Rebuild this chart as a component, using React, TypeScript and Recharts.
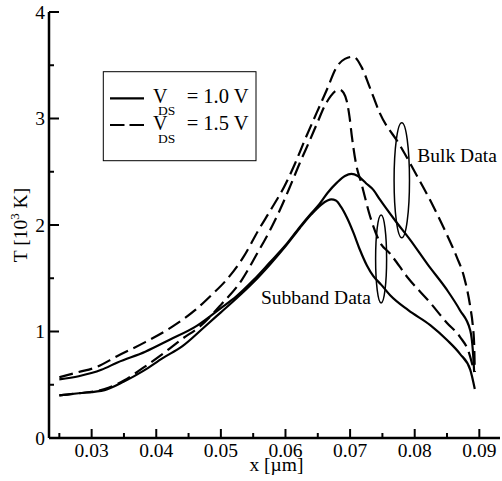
import React from 'react';
import { LineChart, Line, XAxis, YAxis, ReferenceDot, Customized, Label } from 'recharts';

const FONT = "'Liberation Serif', 'Times New Roman', serif";

// x [um] / T [10^3 K]
const subband10X = [0.025, 0.028, 0.032, 0.035, 0.038, 0.041, 0.044, 0.0475, 0.05, 0.0524, 0.055, 0.0576, 0.06, 0.0622, 0.064, 0.0655, 0.0665, 0.0671, 0.0678, 0.0686, 0.0695, 0.0705, 0.0715, 0.0726, 0.0736, 0.0748, 0.0762, 0.079, 0.0824, 0.085, 0.087, 0.0886, 0.0893];
const subband10T = [0.40, 0.42, 0.45, 0.53, 0.63, 0.75, 0.86, 1.045, 1.18, 1.31, 1.46, 1.63, 1.80, 1.97, 2.10, 2.19, 2.23, 2.24, 2.23, 2.17, 2.07, 1.93, 1.77, 1.62, 1.52, 1.44, 1.34, 1.20, 1.06, 0.92, 0.79, 0.64, 0.46];

const bulk10X = [0.025, 0.028, 0.0315, 0.034, 0.0383, 0.042, 0.0462, 0.05, 0.0524, 0.055, 0.0576, 0.06, 0.0622, 0.064, 0.0653, 0.0665, 0.068, 0.0692, 0.0702, 0.0712, 0.0725, 0.0736, 0.0746, 0.077, 0.0793, 0.082, 0.085, 0.087, 0.0886, 0.089, 0.0892];
const bulk10T = [0.55, 0.58, 0.64, 0.71, 0.81, 0.92, 1.05, 1.22, 1.33, 1.48, 1.65, 1.81, 1.98, 2.11, 2.20, 2.30, 2.40, 2.46, 2.48, 2.46, 2.39, 2.33, 2.24, 2.04, 1.86, 1.63, 1.39, 1.20, 1.01, 0.82, 0.62];

const subband15X = [0.025, 0.028, 0.032, 0.035, 0.038, 0.041, 0.044, 0.0468, 0.05, 0.0532, 0.0555, 0.0576, 0.0592, 0.0607, 0.0622, 0.0638, 0.065, 0.066, 0.067, 0.0678, 0.0684, 0.069, 0.0695, 0.0699, 0.0703, 0.0709, 0.0718, 0.0731, 0.0746, 0.0762, 0.079, 0.0824, 0.085, 0.087, 0.0884, 0.0892];
const subband15T = [0.40, 0.42, 0.46, 0.54, 0.66, 0.79, 0.93, 1.05, 1.25, 1.48, 1.72, 1.95, 2.15, 2.36, 2.58, 2.80, 2.97, 3.11, 3.21, 3.26, 3.27, 3.24, 3.16, 3.02, 2.82, 2.58, 2.38, 2.08, 1.84, 1.73, 1.50, 1.27, 1.08, 0.95, 0.80, 0.62];

const bulk15X = [0.025, 0.028, 0.0305, 0.034, 0.0383, 0.0426, 0.046, 0.0485, 0.0508, 0.0535, 0.0558, 0.0578, 0.0598, 0.0615, 0.063, 0.0648, 0.0664, 0.0679, 0.0692, 0.0705, 0.0718, 0.073, 0.0746, 0.0777, 0.08, 0.0825, 0.0849, 0.0865, 0.0876, 0.0886, 0.089, 0.0892, 0.0893];
const bulk15T = [0.57, 0.62, 0.66, 0.77, 0.90, 1.05, 1.20, 1.34, 1.48, 1.70, 1.95, 2.15, 2.36, 2.58, 2.80, 3.05, 3.27, 3.48, 3.56, 3.58, 3.48, 3.30, 3.05, 2.75, 2.50, 2.22, 1.92, 1.70, 1.52, 1.23, 1.05, 0.88, 0.62];

const xMajorTicks = [0.03, 0.04, 0.05, 0.06, 0.07, 0.08, 0.09];
const xMinorTicks = [0.025, 0.035, 0.045, 0.055, 0.065, 0.075, 0.085];
const yMajorTicks = [0, 1, 2, 3, 4];
const yMinorTicks = [0.5, 1.5, 2.5, 3.5];

const toPoints = (xs: number[], ts: number[]) => xs.map((x, i) => ({ x, t: ts[i] }));

const xTicks = [...xMajorTicks, ...xMinorTicks].sort((a, b) => a - b);
const yTicks = [...yMajorTicks, ...yMinorTicks].sort((a, b) => a - b);
const isMajor = (list: number[], v: number) => list.some((m) => Math.abs(m - v) < 1e-9);

const BottomTick = (props: any) => {
  const { x, y, payload } = props;
  const major = isMajor(xMajorTicks, payload.value);
  return (
    <g>
      <line x1={x} x2={x} y1={y} y2={y - (major ? 9 : 5)} stroke="#000" strokeWidth={2} />
      {major && (
        <text x={x} y={y + 19} textAnchor="middle" fontFamily={FONT} fontSize={19.5} fill="#000">
          {payload.value.toFixed(2)}
        </text>
      )}
    </g>
  );
};

const TopTick = (props: any) => {
  const { x, y, payload } = props;
  const major = isMajor(xMajorTicks, payload.value);
  return <line x1={x} x2={x} y1={y} y2={y + (major ? 9 : 5)} stroke="#000" strokeWidth={2} />;
};

const LeftTick = (props: any) => {
  const { x, y, payload } = props;
  const major = isMajor(yMajorTicks, payload.value);
  return (
    <g>
      <line x1={x} x2={x + (major ? 10 : 5)} y1={y} y2={y} stroke="#000" strokeWidth={2} />
      {major && (
        <text x={x - 4} y={y + 6.5} textAnchor="end" fontFamily={FONT} fontSize={19.5} fill="#000">
          {payload.value}
        </text>
      )}
    </g>
  );
};

const RightTick = (props: any) => {
  const { x, y, payload } = props;
  const major = isMajor(yMajorTicks, payload.value);
  return <line x1={x} x2={x - (major ? 10 : 5)} y1={y} y2={y} stroke="#000" strokeWidth={2} />;
};

const LegendBox = () => (
  <g fontFamily={FONT} fill="#000">
    <rect x={103.3} y={71.7} width={152.7} height={89} fill="#fff" stroke="#000" strokeWidth={1} />
    <line x1={110} x2={144} y1={98.3} y2={98.3} stroke="#000" strokeWidth={2.2} />
    <line x1={110} x2={144} y1={125} y2={125} stroke="#000" strokeWidth={2.2} strokeDasharray="14.5 5" />
    <text x={153} y={102.7} fontSize={20}>V</text>
    <text x={158} y={115} fontSize={13.5}>DS</text>
    <text x={186.7} y={102.7} fontSize={20.5}>= 1.0 V</text>
    <text x={153} y={130} fontSize={20}>V</text>
    <text x={158} y={143} fontSize={13.5}>DS</text>
    <text x={186.7} y={130} fontSize={20.5}>= 1.5 V</text>
  </g>
);

const XLabel = (props: any) => {
  const { x, y, width } = props.viewBox;
  return (
    <text x={x + width / 2 + 2} y={y + 33} textAnchor="middle" fontFamily={FONT} fontSize={19.5} fill="#000">
      x [µm]
    </text>
  );
};

const YLabel = (props: any) => {
  const { x, y, height } = props.viewBox;
  const cx = x + 26.7;
  const cy = y + height / 2;
  return (
    <text x={cx} y={cy} textAnchor="middle" transform={`rotate(-90 ${cx} ${cy})`} fontFamily={FONT} fontSize={19.5} fill="#000">
      T [10<tspan fontSize={13} dy={-8}>3</tspan>
      <tspan dy={8}> K]</tspan>
    </text>
  );
};

// annotation anchors (data coordinates)
const bulkEllipse = { x: 0.078, t: 2.42 };
const subbandEllipse = { x: 0.0748, t: 1.68 };
const bulkText = { x: 0.0804, t: 2.59 };
const subbandText = { x: 0.0562, t: 1.26 };

const ellipseShape = (rx: number, ry: number) => (props: any) => (
  <ellipse cx={props.cx} cy={props.cy} rx={rx} ry={ry} fill="none" stroke="#000" strokeWidth={1.5} />
);

const textShape = (label: string) => (props: any) => (
  <text x={props.cx} y={props.cy} fontFamily={FONT} fontSize={19.5} fill="#000">
    {label}
  </text>
);

const App = () => {
  return (
    <div style={{ position: 'absolute', left: 0, top: 0, width: 502, height: 481 }}>
      <LineChart width={502} height={481} margin={{ top: 12, right: 2, bottom: 0, left: 0 }}>
        <XAxis
          dataKey="x"
          type="number"
          domain={[0.0234, 0.0932]}
          allowDataOverflow
          ticks={xTicks}
          interval={0}
          tick={<BottomTick />}
          tickLine={false}
          tickSize={0}
          tickMargin={0}
          height={43}
          axisLine={{ stroke: '#000', strokeWidth: 2.5 }}
        >
          <Label content={<XLabel />} />
        </XAxis>
        <XAxis
          xAxisId="top"
          orientation="top"
          dataKey="x"
          type="number"
          domain={[0.0234, 0.0932]}
          allowDataOverflow
          ticks={xTicks}
          interval={0}
          tick={<TopTick />}
          tickLine={false}
          tickSize={0}
          tickMargin={0}
          height={0}
          axisLine={{ stroke: '#000', strokeWidth: 2 }}
        />
        <YAxis
          type="number"
          domain={[0, 4]}
          allowDataOverflow
          ticks={yTicks}
          interval={0}
          tick={<LeftTick />}
          tickLine={false}
          tickSize={0}
          tickMargin={0}
          width={49}
          axisLine={{ stroke: '#000', strokeWidth: 2.5 }}
        >
          <Label content={<YLabel />} />
        </YAxis>
        <YAxis
          yAxisId="right"
          orientation="right"
          type="number"
          domain={[0, 4]}
          allowDataOverflow
          ticks={yTicks}
          interval={0}
          tick={<RightTick />}
          tickLine={false}
          tickSize={0}
          tickMargin={0}
          width={0}
          axisLine={{ stroke: '#000', strokeWidth: 2 }}
        />
        <Line data={toPoints(subband10X, subband10T)} dataKey="t" type="monotone" stroke="#000" strokeWidth={2.2} dot={false} isAnimationActive={false} />
        <Line data={toPoints(bulk10X, bulk10T)} dataKey="t" type="monotone" stroke="#000" strokeWidth={2.2} dot={false} isAnimationActive={false} />
        <Line data={toPoints(subband15X, subband15T)} dataKey="t" type="monotone" stroke="#000" strokeWidth={2.2} strokeDasharray="14 6" dot={false} isAnimationActive={false} />
        <Line data={toPoints(bulk15X, bulk15T)} dataKey="t" type="monotone" stroke="#000" strokeWidth={2.2} strokeDasharray="14 6" dot={false} isAnimationActive={false} />
        <ReferenceDot x={bulkEllipse.x} y={bulkEllipse.t} shape={ellipseShape(7.7, 57.5)} />
        <ReferenceDot x={subbandEllipse.x} y={subbandEllipse.t} shape={ellipseShape(5.5, 44)} />
        <ReferenceDot x={bulkText.x} y={bulkText.t} shape={textShape('Bulk Data')} />
        <ReferenceDot x={subbandText.x} y={subbandText.t} shape={textShape('Subband Data')} />
        <Customized component={<LegendBox />} />
      </LineChart>
    </div>
  );
};

export default App;
